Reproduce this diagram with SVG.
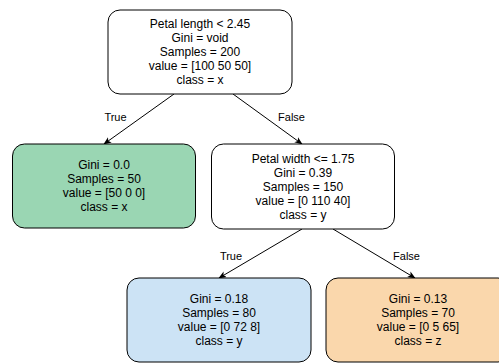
<svg xmlns="http://www.w3.org/2000/svg" width="499" height="363" viewBox="0 0 499 363">
<style>
.box{stroke:#000;stroke-width:1}
.t{font-family:"Liberation Sans",Arial,sans-serif;font-size:12px;fill:#000;text-anchor:middle;dominant-baseline:central}
.l{font-family:"Liberation Sans",Arial,sans-serif;font-size:11px;fill:#000;text-anchor:middle;dominant-baseline:central}
.e{stroke:#000;stroke-width:1;fill:none;marker-end:url(#ah)}
</style>
<defs>
<marker id="ah" viewBox="0 0 10 10" refX="9" refY="5" markerWidth="8" markerHeight="8" markerUnits="userSpaceOnUse" orient="auto">
<path d="M0,1 L10,5 L0,9 L2.5,5 Z" fill="#000"/>
</marker>
</defs>
<rect width="499" height="363" fill="#fff"/>
<g id="connectors">
<line class="e" x1="174" y1="94" x2="104" y2="144"/>
<line class="e" x1="233" y1="94" x2="302" y2="144"/>
<line class="e" x1="302" y1="229" x2="219" y2="278"/>
<line class="e" x1="333" y1="229" x2="415" y2="278"/>
<text class="l" x="115.5" y="117">True</text>
<text class="l" x="291.5" y="117">False</text>
<text class="l" x="231" y="256">True</text>
<text class="l" x="406.5" y="256">False</text>
</g>
<g id="root">
<rect class="box" x="108" y="10" width="184" height="84" rx="12" fill="#fff"/>
<text class="t" x="200" y="24">Petal length &lt; 2.45</text>
<text class="t" x="200" y="38">Gini = void</text>
<text class="t" x="200" y="52">Samples = 200</text>
<text class="t" x="200" y="66">value = [100 50 50]</text>
<text class="t" x="200" y="80">class = x</text>
</g>
<g id="leaf-x">
<rect class="box" x="12.5" y="144" width="183" height="84" rx="12" fill="#9ad6b3"/>
<text class="t" x="104" y="165">Gini = 0.0</text>
<text class="t" x="104" y="179">Samples = 50</text>
<text class="t" x="104" y="193">value = [50 0 0]</text>
<text class="t" x="104" y="207">class = x</text>
</g>
<g id="split">
<rect class="box" x="211.5" y="144" width="183" height="85" rx="12" fill="#fff"/>
<text class="t" x="303" y="158.5">Petal width &lt;= 1.75</text>
<text class="t" x="303" y="172.5">Gini = 0.39</text>
<text class="t" x="303" y="186.5">Samples = 150</text>
<text class="t" x="303" y="200.5">value = [0 110 40]</text>
<text class="t" x="303" y="214.5">class = y</text>
</g>
<g id="leaf-y">
<rect class="box" x="127" y="278" width="184" height="84" rx="12" fill="#cce3f5"/>
<text class="t" x="219" y="299">Gini = 0.18</text>
<text class="t" x="219" y="313">Samples = 80</text>
<text class="t" x="219" y="327">value = [0 72 8]</text>
<text class="t" x="219" y="341">class = y</text>
</g>
<g id="leaf-z">
<rect class="box" x="326" y="278" width="184" height="84" rx="12" fill="#fad7ac"/>
<text class="t" x="418" y="299">Gini = 0.13</text>
<text class="t" x="418" y="313">Samples = 70</text>
<text class="t" x="418" y="327">value = [0 5 65]</text>
<text class="t" x="418" y="341">class = z</text>
</g>
</svg>
